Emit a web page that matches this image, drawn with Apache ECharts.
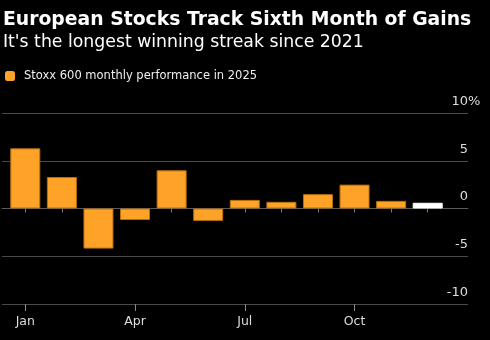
<!DOCTYPE html>
<html>
<head>
<meta charset="utf-8">
<script src="https://cdn.jsdelivr.net/npm/echarts@6/dist/echarts.min.js"></script>
<style>
  html, body { margin: 0; padding: 0; background: #000; }
  #chart { width: 490px; height: 340px; }
</style>
</head>
<body>
<div id="chart"></div>
<script>
// Stoxx 600 monthly performance, 2025 (percent)
const months = ['Jan', 'Feb', 'Mar', 'Apr', 'May', 'Jun', 'Jul', 'Aug', 'Sep', 'Oct', 'Nov', 'Dec'];
const monthlyPerformance = [6.3, 3.3, -4.2, -1.2, 4.0, -1.3, 0.9, 0.7, 1.5, 2.5, 0.8, 0.6];
const yTicks = [-10, -5, 0, 5, 10];
// the month still in progress is drawn in white
const currentMonth = 'Dec';

const ORANGE = '#ffa228';
const ORANGE_EDGE = '#b8700f';
const FONT = 'DejaVu Sans';
const LABEL_COLOR = '#ddd';

const chart = echarts.init(document.getElementById('chart'));

const yMin = yTicks[0];
const yMax = yTicks[yTicks.length - 1];
const yStep = yTicks[1] - yTicks[0];

// split-line colours cycle from the bottom tick upward; zero line in white
const splitColors = yTicks.map(v => (v === 0 ? '#ffffff' : '#4a4a4a'));

const gridTop = 113;
const gridBottom = 36;

chart.setOption({
  backgroundColor: '#000',
  animation: false,
  title: [
    {
      text: 'European Stocks Track Sixth Month of Gains',
      left: 3, top: 11, padding: 0,
      textStyle: { color: '#fff', fontFamily: FONT, fontWeight: 'bold', fontSize: 18.8 }
    },
    {
      text: "It's the longest winning streak since 2021",
      left: 3, top: 34, padding: 0,
      textStyle: { color: '#fff', fontFamily: FONT, fontWeight: 'normal', fontSize: 17.3 }
    }
  ],
  legend: {
    left: 5, top: 70, padding: 0,
    itemWidth: 10, itemHeight: 10,
    icon: 'roundRect',
    textStyle: { color: '#eee', fontFamily: FONT, fontSize: 11.5, padding: [0, 0, 0, 4] },
    data: [{ name: 'Stoxx 600 monthly performance in 2025', itemStyle: { color: ORANGE, borderWidth: 0 } }]
  },
  grid: [
    // full-width frame for gridlines and the baseline
    { left: 2, right: 22, top: gridTop, bottom: gridBottom },
    // category band for the bars
    { left: 7, right: 44, top: gridTop, bottom: gridBottom }
  ],
  xAxis: [
    {
      gridIndex: 0, type: 'value', min: 0, max: 1,
      axisLine: { show: true, lineStyle: { color: '#5a5a5a', width: 1 } },
      axisTick: { show: false }, axisLabel: { show: false }, splitLine: { show: false }
    },
    {
      gridIndex: 1, type: 'category', data: months, position: 'bottom',
      axisLine: { show: false },
      axisTick: { show: true, alignWithLabel: true, interval: 0, length: 4, lineStyle: { color: '#777' } },
      axisLabel: { show: false }
    },
    {
      gridIndex: 1, type: 'category', data: months, position: 'bottom',
      axisLine: { show: false },
      axisTick: { show: true, alignWithLabel: true, interval: 2, length: 7, lineStyle: { color: '#888' } },
      axisLabel: { show: true, interval: 2, color: LABEL_COLOR, fontFamily: FONT, fontSize: 12.5, margin: 11 }
    }
  ],
  yAxis: [
    {
      gridIndex: 0, type: 'value', position: 'right',
      min: yMin, max: yMax, interval: yStep,
      axisLine: { show: false }, axisTick: { show: false },
      splitLine: { show: true, lineStyle: { color: splitColors, width: 1 } },
      axisLabel: {
        inside: true, margin: 0,
        verticalAlign: 'bottom',
        padding: [0, 0, 5, 0],
        color: LABEL_COLOR, fontFamily: FONT, fontSize: 13
      }
    },
    { gridIndex: 1, type: 'value', min: yMin, max: yMax, interval: yStep, show: false }
  ],
  series: [
    {
      name: 'Stoxx 600 monthly performance in 2025',
      type: 'bar',
      xAxisIndex: 1, yAxisIndex: 1,
      barWidth: 30,
      itemStyle: { color: ORANGE, borderColor: ORANGE_EDGE, borderWidth: 1 },
      data: monthlyPerformance.map((v, i) => (
        months[i] === currentMonth
          ? { value: v, itemStyle: { color: '#ffffff', borderColor: '#ffffff' } }
          : v
      ))
    }
  ]
});

// unit sign hangs just past the top tick label
const topPx = chart.convertToPixel({ xAxisIndex: 0, yAxisIndex: 0 }, [1, yMax]);
chart.setOption({
  graphic: [{
    type: 'text',
    x: topPx[0], y: topPx[1] - 5,
    style: {
      text: '%', fill: LABEL_COLOR, font: '13px ' + FONT,
      textAlign: 'left', textVerticalAlign: 'bottom'
    }
  }]
});
</script>
</body>
</html>
